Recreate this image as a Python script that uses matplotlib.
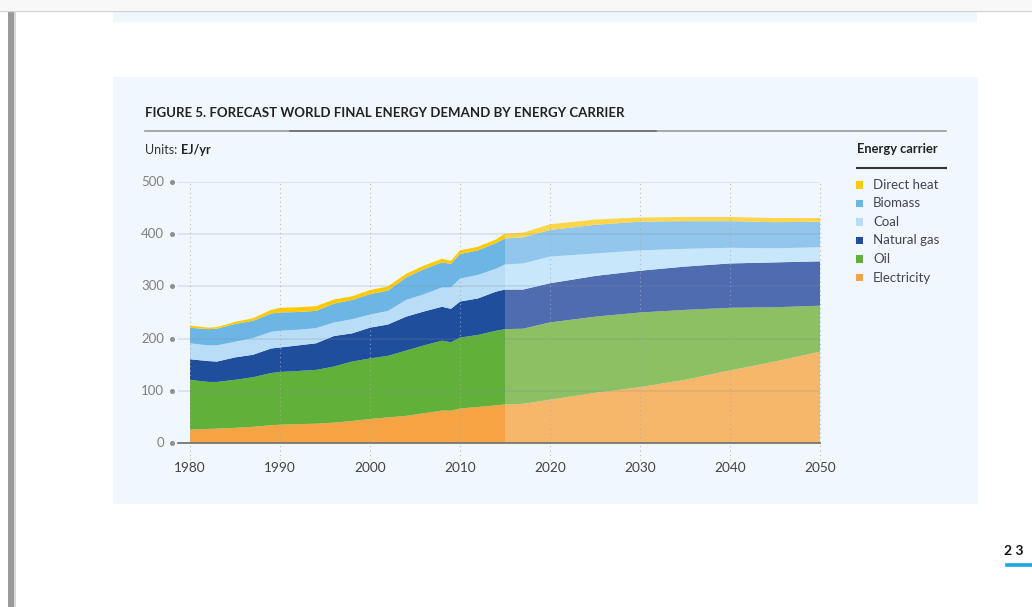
import matplotlib.pyplot as plt
from matplotlib.patches import Rectangle
from matplotlib.lines import Line2D

plt.rcParams['font.family'] = ['Lato', 'DejaVu Sans']

W, H = 1032, 607

# historical data (EJ/yr)
hist_years = [1980, 1982, 1983, 1985, 1987, 1989, 1990, 1992, 1994, 1996, 1998,
              2000, 2002, 2004, 2006, 2008, 2009, 2010, 2012, 2014, 2015]
hist_electricity = [25.5, 27, 27.5, 29, 31, 34, 35, 36, 37, 39, 42,
                    46, 49, 52, 57, 62, 62, 66, 69, 72, 74]
hist_oil = [95.5, 90, 89.5, 92, 95, 100, 101, 102, 103, 107.5, 114,
            116, 118, 125, 130, 134, 131, 136, 138, 143, 144]
hist_gas = [39.5, 40, 39, 43, 43, 47, 47, 49, 51, 58.5, 54,
            59, 60, 65, 65, 65, 64, 69, 70, 75, 76]
hist_coal = [30.5, 30, 31, 30, 32, 32, 32, 30, 29, 26, 27,
             25, 26, 32, 33, 37, 41, 44, 45, 44, 48]
hist_biomass = [30, 31, 32, 34, 33, 35, 35, 34, 33, 36, 37,
                39, 39, 43, 48, 48, 45, 47, 47, 49, 50]
hist_heat = [4, 3, 3, 4, 5, 7, 9, 9, 9, 8, 7,
             8, 8, 7, 7, 7, 6, 7, 7, 7, 9]

# forecast data (EJ/yr)
fc_years = [2015, 2017, 2020, 2025, 2030, 2035, 2040, 2045, 2050]
fc_electricity = [74, 75, 83, 96, 107, 121, 139, 156, 175]
fc_oil = [144, 144, 148, 146, 143, 134, 120, 104, 88]
fc_gas = [76, 75, 75, 78, 80, 83, 85, 86, 85]
fc_coal = [48, 50, 51, 43, 39, 34, 30, 27, 27]
fc_biomass = [50, 50, 51, 55, 55, 53, 51, 50, 49]
fc_heat = [9, 9, 11, 10, 8, 8, 8, 8, 7]

carriers = ['Direct heat', 'Biomass', 'Coal', 'Natural gas', 'Oil', 'Electricity']
hist_colors = ['#F5A343', '#61B03A', '#1F4F9C', '#B9DDF6', '#6CB6E6', '#FFCA05']
fc_colors = ['#F7B76B', '#8CC063', '#506CB1', '#C9E7FA', '#93C6EC', '#FFD54A']

y_ticks = [0, 100, 200, 300, 400, 500]
x_ticks = [1980, 1990, 2000, 2010, 2020, 2030, 2040, 2050]

panel = '#F1F8FD'


def fx(x):
    return x / W


def fy(y):
    return 1 - y / H


def rect(x0, y0, x1, y1, color, z=0):
    fig.add_artist(Rectangle((fx(x0), fy(y1)), fx(x1) - fx(x0), fy(y0) - fy(y1),
                             transform=fig.transFigure, color=color, lw=0, zorder=z))


def hline(x0, x1, y, color, lw):
    fig.add_artist(Line2D([fx(x0), fx(x1)], [fy(y), fy(y)], transform=fig.transFigure,
                          color=color, lw=lw))


fig = plt.figure(figsize=(W / 100, H / 100), dpi=100, facecolor='white')

# page decoration
rect(0, 0, W, 10, '#F8F8F8')
hline(0, W, 10.5, '#D4D4D4', 1)
rect(8, 11, 14, H, '#9A9A9A')
rect(14, 11, 15.5, H, '#D8D8D8')
rect(113, 11, 977, 22, panel)
rect(113, 77, 978, 504, panel)

# title + units
fig.text(fx(145), fy(113), 'FIGURE 5. FORECAST WORLD FINAL ENERGY DEMAND BY ENERGY CARRIER',
         fontsize=9.5, fontweight='bold', color='#222222', va='center')
hline(145, 946, 130.5, '#9A9A9A', 1.2)
hline(290, 656, 130.5, '#707070', 1.2)
t = fig.text(fx(145), fy(150), 'Units: ', fontsize=9, color='#333333', va='center')
fig.canvas.draw()
bb = t.get_window_extent()
fig.text(bb.x1 / W, fy(150), 'EJ/yr', fontsize=9, fontweight='bold', color='#222222', va='center')

# chart axes
ax = fig.add_axes([fx(178), fy(443), fx(820) - fx(178), fy(182) - fy(443)])
ax.set_facecolor('none')
x_left = 1980 - 12 / 9.0
ax.set_xlim(x_left, 2050)
ax.set_ylim(0, 500)
for s in ax.spines.values():
    s.set_visible(False)
ax.set_xticks([])
ax.set_yticks([])

ax.stackplot(hist_years, hist_electricity, hist_oil, hist_gas, hist_coal, hist_biomass,
             hist_heat, colors=hist_colors, lw=0, zorder=2)
ax.stackplot(fc_years, fc_electricity, fc_oil, fc_gas, fc_coal, fc_biomass, fc_heat,
             colors=fc_colors, lw=0, zorder=2)

# grid
for v in y_ticks[1:]:
    ax.axhline(v, color='#7A8A99', alpha=0.2, lw=1.2, zorder=3)
ax.axhline(0, color='#777777', lw=1.3, zorder=4, clip_on=False)
for yr in x_ticks:
    ax.plot([yr, yr], [-32, 500], color='#AAAAAA', lw=0.8, ls=(0, (1, 3)),
            alpha=0.8, zorder=3, clip_on=False)

ytr = ax.get_yaxis_transform()
for v in y_ticks:
    ax.text(-0.022, v, str(v), transform=ytr, ha='right', va='center',
            fontsize=9.5, color='#808080')
    ax.plot([-0.0095], [v], transform=ytr, marker='o', ms=2.6, color='#909090',
            clip_on=False, ls='none')

xtr = ax.get_xaxis_transform()
for yr in x_ticks:
    ax.text(yr, -0.096, str(yr), transform=xtr, ha='center', va='center',
            fontsize=9.8, color='#444444')

# legend
fig.text(fx(857), fy(149), 'Energy carrier', fontsize=9.3, fontweight='bold',
         color='#222222', va='center')
hline(857, 946, 167.5, '#333333', 1.5)
legend_colors = ['#FFCA05', '#6CB6E6', '#B9DDF6', '#1F4F9C', '#61B03A', '#F5A343']
for i, (name, c) in enumerate(zip(carriers, legend_colors)):
    yy = 185 + i * 18.5
    rect(856, yy - 3.5, 863, yy + 3.5, c, z=5)
    fig.text(fx(873), fy(yy), name, fontsize=9.5, color='#444455', va='center')

# page number
fig.text(fx(1014), fy(551), '2 3', fontsize=10, fontweight='bold', color='#111111',
         ha='center', va='center')
hline(1007, W, 565, '#1CA6E2', 2.6)

fig.savefig('out.png', dpi=100, facecolor='white')
